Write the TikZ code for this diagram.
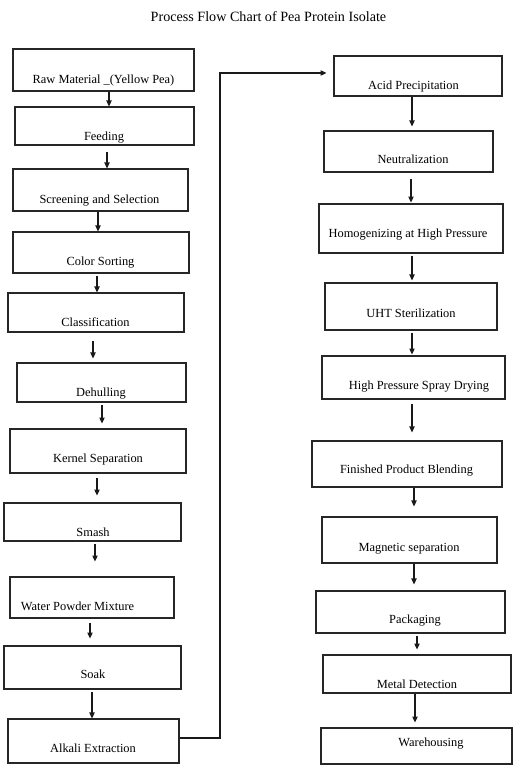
\documentclass[tikz,border=0pt]{standalone}
\usepackage{fontspec}
\setmainfont{Liberation Serif}
\usetikzlibrary{fit,arrows.meta}
\begin{document}
\begin{tikzpicture}[x=0.75pt,y=-0.75pt,
  box/.style={draw=black!85,line width=0.8pt,inner sep=0pt},
  lbl/.style={anchor=base,inner sep=0pt,font=\fontsize{9.3pt}{11pt}\selectfont},
  ttl/.style={anchor=base,inner sep=0pt,font=\fontsize{10.6pt}{12pt}\selectfont},
  arr/.style={draw=black!90,line width=0.8pt,-{Triangle[length=4.5pt,width=4pt]}}]
\useasboundingbox (0,0) rectangle (522,772);
\node[ttl] (title) at (268.5,21) {Process Flow Chart of Pea Protein Isolate};
% left column
\node[box,fit={(13,49) (194,91)}] (raw) {};
\node[lbl] (rawt) at (103.5,83) {Raw Material \_(Yellow Pea)};
\node[box,fit={(15,107) (194,145)}] (feed) {};
\node[lbl] (feedt) at (104,140) {Feeding};
\node[box,fit={(13,169) (188,211)}] (scr) {};
\node[lbl] (scrt) at (99.5,203) {Screening and Selection};
\node[box,fit={(13,232) (189,273)}] (col) {};
\node[lbl] (colt) at (100.5,265) {Color Sorting};
\node[box,fit={(8,293) (184,332)}] (cla) {};
\node[lbl] (clat) at (95.5,326) {Classification};
\node[box,fit={(17,363) (186,402)}] (deh) {};
\node[lbl] (deht) at (101,396) {Dehulling};
\node[box,fit={(10,429) (186,473)}] (ker) {};
\node[lbl] (kert) at (98,462) {Kernel Separation};
\node[box,fit={(4,503) (181,541)}] (sma) {};
\node[lbl] (smat) at (93,536) {Smash};
\node[box,fit={(10,577) (174,618)}] (wat) {};
\node[lbl] (watt) at (77.5,610) {Water Powder Mixture};
\node[box,fit={(4,646) (181,689)}] (soak) {};
\node[lbl] (soakt) at (93,678) {Soak};
\node[box,fit={(8,719) (179,763)}] (alk) {};
\node[lbl] (alkt) at (93,752) {Alkali Extraction};
% right column
\node[box,fit={(334,56) (502,96)}] (acid) {};
\node[lbl] (acidt) at (413.5,89) {Acid Precipitation};
\node[box,fit={(324,131) (493,172)}] (neu) {};
\node[lbl] (neut) at (413,163) {Neutralization};
\node[box,fit={(319,204) (503,253)}] (hom) {};
\node[lbl] (homt) at (408,237) {Homogenizing at High Pressure};
\node[box,fit={(325,283) (497,330)}] (uht) {};
\node[lbl] (uhtt) at (411,317) {UHT Sterilization};
\node[box,fit={(322,356) (505,399)}] (spr) {};
\node[lbl] (sprt) at (419,389) {High Pressure Spray Drying};
\node[box,fit={(312,441) (502,487)}] (fin) {};
\node[lbl] (fint) at (406.5,473) {Finished Product Blending};
\node[box,fit={(322,517) (497,563)}] (mag) {};
\node[lbl] (magt) at (409,551) {Magnetic separation};
\node[box,fit={(316,591) (505,633)}] (pac) {};
\node[lbl] (pact) at (415,623) {Packaging};
\node[box,fit={(323,655) (511,693)}] (met) {};
\node[lbl] (mett) at (417,688) {Metal Detection};
\node[box,fit={(321,728) (512,764)}] (war) {};
\node[lbl] (wart) at (431,746) {Warehousing};
% left arrows
\draw[arr] (raw.south -| 109,0) -- (feed.north -| 109,0);
\draw[arr,shorten <=4.5pt] (feed.south -| 107,0) -- (scr.north -| 107,0);
\draw[arr] (scr.south -| 98,0) -- (col.north -| 98,0);
\draw[arr,shorten <=2.2pt] (col.south -| 97,0) -- (cla.north -| 97,0);
\draw[arr,shorten <=6.7pt,shorten >=3pt] (cla.south -| 93,0) -- (deh.north -| 93,0);
\draw[arr,shorten <=2.2pt,shorten >=3.7pt] (deh.south -| 102,0) -- (ker.north -| 102,0);
\draw[arr,shorten <=3.7pt,shorten >=5.2pt] (ker.south -| 97,0) -- (sma.north -| 97,0);
\draw[arr,shorten <=2.2pt,shorten >=11.2pt] (sma.south -| 95,0) -- (wat.north -| 95,0);
\draw[arr,shorten <=3pt,shorten >=5.2pt] (wat.south -| 90,0) -- (soak.north -| 90,0);
\draw[arr,shorten <=2.2pt] (soak.south -| 92,0) -- (alk.north -| 92,0);
% connector to right column
\draw[arr,shorten >=5.2pt] (alk.east |- 0,738) -- (220,738) -- (220,73) -- (acid.west |- 0,73);
% right arrows
\draw[arr,shorten >=3pt] (acid.south -| 412,0) -- (neu.north -| 412,0);
\draw[arr,shorten <=4.5pt,shorten >=0.7pt] (neu.south -| 411,0) -- (hom.north -| 411,0);
\draw[arr,shorten <=1.5pt,shorten >=1.5pt] (hom.south -| 412,0) -- (uht.north -| 412,0);
\draw[arr,shorten <=1.5pt,shorten >=0.7pt] (uht.south -| 412,0) -- (spr.north -| 412,0);
\draw[arr,shorten <=3pt,shorten >=6pt] (spr.south -| 412,0) -- (fin.north -| 412,0);
\draw[arr,shorten >=7.5pt] (fin.south -| 414,0) -- (mag.north -| 414,0);
\draw[arr,shorten >=4.5pt] (mag.south -| 414,0) -- (pac.north -| 414,0);
\draw[arr,shorten <=1.5pt,shorten >=3.7pt] (pac.south -| 417,0) -- (met.north -| 417,0);
\draw[arr,shorten <=0.7pt,shorten >=3.7pt] (met.south -| 415,0) -- (war.north -| 415,0);
\end{tikzpicture}
\end{document}
